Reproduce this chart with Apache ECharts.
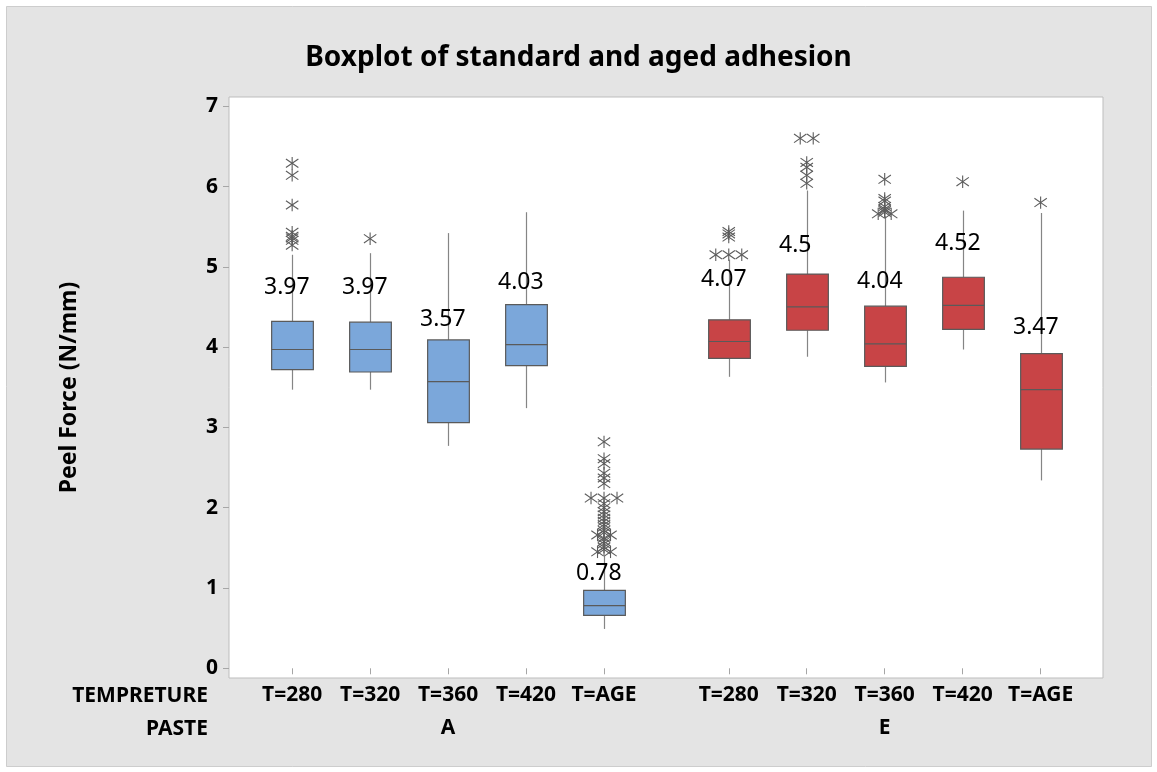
<!DOCTYPE html>
<html><head><meta charset="utf-8">
<script src="https://cdn.jsdelivr.net/npm/echarts@6/dist/echarts.min.js"></script>
<style>html,body{margin:0;padding:0;background:#fff}#c{width:1157px;height:772px}</style>
</head><body><div id="c"></div>
<script>
// ---- data ----
const positions   = [1, 2, 3, 4, 5, 6.6, 7.6, 8.6, 9.6, 10.6];
const tempLabels  = ['T=280','T=320','T=360','T=420','T=AGE','T=280','T=320','T=360','T=420','T=AGE'];
const pasteGroups = ['A','A','A','A','A','E','E','E','E','E'];
const whiskerLow  = [3.47, 3.47, 2.77, 3.24, 0.49, 3.63, 3.88, 3.56, 3.97, 2.34];
const q1          = [3.72, 3.69, 3.06, 3.77, 0.66, 3.86, 4.21, 3.76, 4.22, 2.73];
const medians     = [3.97, 3.97, 3.57, 4.03, 0.78, 4.07, 4.50, 4.04, 4.52, 3.47];
const q3          = [4.32, 4.31, 4.09, 4.53, 0.97, 4.34, 4.91, 4.51, 4.87, 3.92];
const whiskerHigh = [5.15, 5.17, 5.42, 5.68, 1.40, 5.09, 5.95, 5.63, 5.70, 5.67];
const medianLabels = ['3.97','3.97','3.57','4.03','0.78','4.07','4.5','4.04','4.52','3.47'];
const outliersA280 = [6.29, 6.14, 5.77, 5.43, 5.38, 5.36, 5.33, 5.27];
const outliersA320 = [5.35];
const outliersA360 = [];
const outliersA420 = [];
const outliersAAGE = [2.82, 2.61, 2.55, 2.43, 2.37, 2.30, 2.12, 2.12, 2.12, 2.05, 2.00, 1.95, 1.91, 1.87, 1.83, 1.79, 1.76, 1.72, 1.69, 1.66, 1.66, 1.62, 1.58, 1.55, 1.51, 1.48, 1.45, 1.45];
const outliersE280 = [5.44, 5.41, 5.37, 5.15, 5.15, 5.15];
const outliersE320 = [6.60, 6.60, 6.30, 6.24, 6.14, 6.04];
const outliersE360 = [6.09, 5.85, 5.82, 5.75, 5.72, 5.70, 5.68, 5.66, 5.66];
const outliersE420 = [6.06];
const outliersEAGE = [5.80];
const yTicks = [0, 1, 2, 3, 4, 5, 6, 7];

// ---- layout / style ----
const outlierSets = [outliersA280, outliersA320, outliersA360, outliersA420, outliersAAGE,
                     outliersE280, outliersE320, outliersE360, outliersE420, outliersEAGE];
const labelDy = [-62, -62, -62, -62, -32, -62, -62, -62, -62, -62];
const BOX_W = 0.535;
const FONT = '"Noto Sans", "Open Sans", sans-serif';
const fills = { A: '#7ba7da', E: '#c84446' };

const boxData = positions.map((p, i) => [p, whiskerLow[i], q1[i], medians[i], q3[i], whiskerHigh[i]]);
const outlierData = [];
outlierSets.forEach((arr, i) => {
  const counts = {};
  arr.forEach(v => { counts[v] = (counts[v] || 0) + 1; });
  const seen = {};
  arr.forEach(v => {
    const n = counts[v]; const k = seen[v] || 0; seen[v] = k + 1;
    outlierData.push([positions[i], v, (k - (n - 1) / 2) * 13]);
  });
});
const groupNames = [...new Set(pasteGroups)];
const groupCenters = groupNames.map(g => {
  const ps = positions.filter((p, i) => pasteGroups[i] === g);
  return (Math.min(...ps) + Math.max(...ps)) / 2;
});
function near(a, b) { return Math.abs(a - b) < 1e-6; }

const chart = echarts.init(document.getElementById('c'));
chart.setOption({
  backgroundColor: '#ffffff',
  animation: false,
  title: {
    text: 'Boxplot of standard and aged adhesion',
    left: 'center', top: 39,
    textStyle: { fontFamily: FONT, fontSize: 28, fontWeight: 'bold', color: '#000' }
  },
  graphic: [
    { type: 'rect', z: -100, shape: { x: 6.5, y: 6.5, width: 1145, height: 760 },
      style: { fill: '#e4e4e4', stroke: '#cdcdcd', lineWidth: 1 } },
    { type: 'text', x: 208, y: 696, style: { text: 'TEMPRETURE', font: 'bold 21px ' + FONT, fill: '#000', align: 'right', verticalAlign: 'middle', textAlign: 'right', textVerticalAlign: 'middle' } },
    { type: 'text', x: 208, y: 729, style: { text: 'PASTE', font: 'bold 21px ' + FONT, fill: '#000', align: 'right', verticalAlign: 'middle', textAlign: 'right', textVerticalAlign: 'middle' } }
  ],
  grid: { left: 229, right: 54, top: 97, bottom: 94, show: true, backgroundColor: '#ffffff', borderColor: '#bdbdbd', borderWidth: 1 },
  xAxis: [
    { type: 'value', min: 0.19, max: 11.4, position: 'bottom',
      axisLine: { show: false }, splitLine: { show: false },
      axisTick: { show: true, customValues: positions, length: 6, lineStyle: { color: '#a6a6a6' } },
      axisLabel: { customValues: positions, margin: 7, fontSize: 21, fontWeight: 'bold', color: '#000', fontFamily: FONT,
        formatter: v => { const i = positions.findIndex(p => near(p, v)); return i >= 0 ? tempLabels[i] : ''; } } },
    { type: 'value', min: 0.19, max: 11.4, position: 'bottom', offset: 33,
      axisLine: { show: false }, splitLine: { show: false }, axisTick: { show: false },
      axisLabel: { customValues: groupCenters, margin: 7, fontSize: 21, fontWeight: 'bold', color: '#000', fontFamily: FONT,
        formatter: v => { const i = groupCenters.findIndex(p => near(p, v)); return i >= 0 ? groupNames[i] : ''; } } }
  ],
  yAxis: {
    type: 'value', min: -0.121, max: 7.115,
    name: 'Peel Force (N/mm)', nameLocation: 'middle', nameGap: 148, nameRotate: 90,
    nameTextStyle: { fontFamily: FONT, fontSize: 23, fontWeight: 'bold', color: '#000' },
    axisLine: { show: false }, splitLine: { show: false },
    axisTick: { show: true, customValues: yTicks, length: 6, lineStyle: { color: '#a6a6a6' } },
    axisLabel: { customValues: yTicks, margin: 11, fontSize: 21, fontWeight: 'bold', color: '#000', fontFamily: FONT }
  },
  series: [
    { type: 'custom', xAxisIndex: 0, data: boxData, z: 2,
      renderItem: function (params, api) {
        const i = params.dataIndex;
        const x = api.value(0);
        const lo = api.coord([x, api.value(1)]);
        const b1 = api.coord([x, api.value(2)]);
        const md = api.coord([x, api.value(3)]);
        const b3 = api.coord([x, api.value(4)]);
        const hi = api.coord([x, api.value(5)]);
        const hw = api.size([BOX_W, 0])[0] / 2;
        const cx = Math.round(md[0]) + 0.5;
        return { type: 'group', children: [
          { type: 'line', shape: { x1: cx, y1: lo[1], x2: cx, y2: b1[1] }, style: { stroke: '#858585', lineWidth: 1.2 } },
          { type: 'line', shape: { x1: cx, y1: b3[1], x2: cx, y2: hi[1] }, style: { stroke: '#858585', lineWidth: 1.2 } },
          { type: 'rect', shape: { x: cx - hw, y: b3[1], width: 2 * hw, height: b1[1] - b3[1] },
            style: { fill: fills[pasteGroups[i]], stroke: '#5a5a5a', lineWidth: 1.2 } },
          { type: 'line', shape: { x1: cx - hw, y1: md[1], x2: cx + hw, y2: md[1] }, style: { stroke: '#5a5a5a', lineWidth: 1.2 } },
          { type: 'text', x: cx - 28.5, y: md[1] + labelDy[i],
            style: { text: medianLabels[i], font: '23px ' + FONT, fill: '#000', align: 'left', verticalAlign: 'middle', textAlign: 'left', textVerticalAlign: 'middle' } }
        ] };
      } },
    { type: 'custom', xAxisIndex: 0, data: outlierData, z: 3,
      renderItem: function (params, api) {
        const p = api.coord([api.value(0), api.value(1)]);
        const x = p[0] + api.value(2), y = p[1];
        const r = 6.2, dx = 6.2, dy = 4.3;
        const st = { stroke: '#5c5c5c', lineWidth: 1.1, fill: null };
        return { type: 'group', children: [
          { type: 'line', shape: { x1: x, y1: y - r, x2: x, y2: y + r }, style: st },
          { type: 'line', shape: { x1: x - dx, y1: y - dy, x2: x + dx, y2: y + dy }, style: st },
          { type: 'line', shape: { x1: x - dx, y1: y + dy, x2: x + dx, y2: y - dy }, style: st }
        ] };
      } }
  ]
});
</script></body></html>
